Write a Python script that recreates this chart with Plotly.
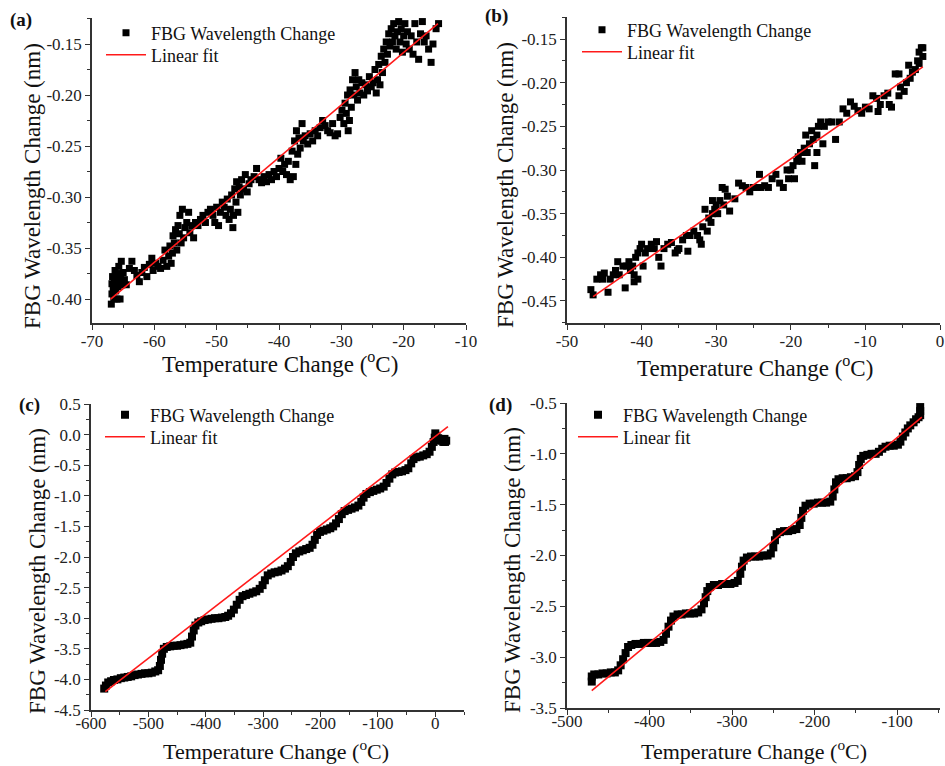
import plotly.graph_objects as go

# ---------------- data ----------------
a_points = [(-66.9,-0.405),(-66.8,-0.395),(-66.8,-0.385),(-66.7,-0.378),(-66.6,-0.390),(-66.5,-0.400),(-66.4,-0.383),
(-66.3,-0.372),(-66.2,-0.392),(-66.1,-0.380),(-66.0,-0.400),(-65.9,-0.375),(-65.8,-0.388),(-65.7,-0.368),(-65.6,-0.382),
(-65.5,-0.400),(-65.4,-0.376),(-65.3,-0.363),(-65.2,-0.386),(-65.0,-0.374),(-64.8,-0.381),(-64.5,-0.386),
(-64.0,-0.370),(-63.6,-0.363),(-63.2,-0.372),(-62.8,-0.377),(-62.4,-0.383),(-62.0,-0.374),(-61.6,-0.369),(-61.2,-0.378),
(-60.8,-0.366),(-60.4,-0.360),(-60.2,-0.372),(-59.8,-0.365),(-59.4,-0.368),(-59.0,-0.370),(-58.6,-0.362),(-58.3,-0.352),
(-58.0,-0.368),(-57.7,-0.358),(-57.5,-0.348),(-57.3,-0.365),(-57.1,-0.355),(-57.0,-0.338),(-56.8,-0.345),(-56.6,-0.332),
(-56.4,-0.352),(-56.2,-0.328),(-56.0,-0.336),(-55.9,-0.318),(-55.7,-0.345),(-55.5,-0.312),(-55.3,-0.340),(-55.1,-0.330),
(-54.8,-0.325),(-54.5,-0.315),(-54.3,-0.335),(-54.0,-0.328),(-53.7,-0.340),(-53.4,-0.325),(-53.0,-0.328),(-52.6,-0.322),
(-52.2,-0.318),(-51.8,-0.325),(-51.4,-0.315),(-51.0,-0.312),(-50.6,-0.318),(-50.3,-0.325),(-50.0,-0.310),(-49.7,-0.328),
(-49.4,-0.315),(-49.1,-0.305),(-48.8,-0.310),(-48.5,-0.318),(-48.3,-0.302),(-48.0,-0.322),(-47.8,-0.312),(-47.6,-0.298),
(-47.4,-0.330),(-47.3,-0.318),(-47.1,-0.292),(-46.9,-0.305),(-46.8,-0.285),(-46.6,-0.315),(-46.4,-0.290),(-46.2,-0.298),
(-46.0,-0.283),(-45.7,-0.292),(-45.4,-0.278),(-45.1,-0.295),(-44.8,-0.287),(-44.5,-0.283),(-44.0,-0.280),(-43.6,-0.272),
(-43.2,-0.283),(-42.8,-0.286),(-42.4,-0.280),(-42.0,-0.285),(-41.6,-0.278),(-41.2,-0.283),(-40.8,-0.275),(-40.4,-0.280),
(-40.0,-0.272),(-39.7,-0.262),(-39.4,-0.275),(-39.1,-0.268),(-38.8,-0.278),(-38.5,-0.265),(-38.2,-0.283),(-37.9,-0.255),
(-37.7,-0.280),(-37.5,-0.245),(-37.3,-0.268),(-37.2,-0.235),(-37.0,-0.258),(-36.8,-0.242),(-36.6,-0.252),(-36.3,-0.228),
(-36.1,-0.245),(-35.8,-0.240),(-35.4,-0.248),(-35.0,-0.238),(-34.6,-0.245),(-34.2,-0.235),(-33.8,-0.240),(-33.4,-0.232),
(-33.0,-0.225),(-32.6,-0.230),(-32.2,-0.235),(-31.8,-0.237),(-31.4,-0.228),(-31.0,-0.240),(-30.6,-0.238),(-30.2,-0.222),
(-29.9,-0.215),(-29.6,-0.228),(-29.4,-0.208),(-29.2,-0.218),(-29.0,-0.200),(-28.9,-0.235),(-28.7,-0.225),(-28.6,-0.195),
(-28.4,-0.212),(-28.2,-0.185),(-28.0,-0.200),(-27.8,-0.178),(-27.6,-0.192),(-27.4,-0.205),(-27.2,-0.185),(-27.0,-0.198),
(-26.7,-0.188),(-26.4,-0.200),(-26.1,-0.190),(-25.8,-0.196),(-25.5,-0.182),(-25.2,-0.192),(-24.9,-0.188),(-24.6,-0.175),
(-24.4,-0.198),(-24.2,-0.185),(-24.0,-0.170),(-23.8,-0.190),(-23.6,-0.162),(-23.4,-0.178),(-23.2,-0.155),(-23.0,-0.168),
(-22.8,-0.148),(-22.6,-0.160),(-22.4,-0.140),(-22.2,-0.152),(-22.0,-0.135),(-21.8,-0.148),(-21.6,-0.130),(-21.4,-0.142),
(-21.2,-0.155),(-21.0,-0.138),(-20.8,-0.128),(-20.6,-0.148),(-20.4,-0.135),(-20.2,-0.158),(-20.0,-0.142),(-19.8,-0.130),
(-19.6,-0.150),(-19.4,-0.138),(-19.1,-0.155),(-18.8,-0.142),(-18.5,-0.160),(-18.2,-0.130),(-17.9,-0.148),(-17.6,-0.165),
(-17.3,-0.140),(-17.0,-0.128),(-16.7,-0.148),(-16.4,-0.142),(-16.0,-0.155),(-15.6,-0.168),(-15.3,-0.150),(-14.8,-0.135),
(-14.4,-0.130)]
a_fit_x = [-67.0, -14.5]
a_fit_y = [-0.400, -0.130]

b_points = [(-46.8,-0.437),(-46.5,-0.443),(-46.0,-0.425),(-45.5,-0.420),(-45.2,-0.425),(-45.0,-0.418),
(-44.5,-0.440),(-44.2,-0.425),(-43.8,-0.420),(-43.5,-0.415),(-43.2,-0.405),(-43.0,-0.420),(-42.5,-0.410),(-42.2,-0.435),
(-42.0,-0.410),(-41.7,-0.405),(-41.5,-0.415),(-41.2,-0.410),(-41.0,-0.420),(-40.8,-0.400),(-40.5,-0.395),(-40.2,-0.390),
(-40.0,-0.385),(-39.8,-0.410),(-39.5,-0.395),(-39.2,-0.390),(-41.0,-0.428),(-40.5,-0.425),
(-38.7,-0.385),(-38.3,-0.390),(-38.0,-0.382),(-37.7,-0.400),(-37.4,-0.410),(-37.0,-0.390),(-36.5,-0.385),(-36.0,-0.383),
(-35.5,-0.395),(-35.2,-0.392),(-35.0,-0.390),(-34.5,-0.380),(-34.0,-0.375),(-33.8,-0.393),(-33.5,-0.375),(-33.0,-0.370),
(-32.5,-0.375),(-32.2,-0.380),(-32.0,-0.385),(-31.8,-0.365),(-31.5,-0.345),(-31.2,-0.370),(-31.0,-0.355),
(-30.7,-0.360),(-30.5,-0.350),(-30.2,-0.345),(-30.0,-0.340),(-29.8,-0.350),(-29.5,-0.335),(-29.2,-0.320),(-29.0,-0.340),
(-28.8,-0.322),(-28.5,-0.330),(-28.2,-0.347),(-30.5,-0.335),
(-27.5,-0.333),(-27.0,-0.315),(-26.5,-0.318),(-26.0,-0.320),(-25.5,-0.325),(-25.0,-0.320),(-24.5,-0.320),(-24.2,-0.305),
(-24.0,-0.320),(-23.5,-0.318),(-23.0,-0.320),(-22.5,-0.310),(-22.0,-0.305),(-21.5,-0.315),(-21.0,-0.320),(-20.5,-0.300),
(-20.3,-0.310),(-20.0,-0.300),(-19.7,-0.295),(-19.5,-0.310),(-19.2,-0.290),(-19.0,-0.285),(-18.7,-0.280),(-18.5,-0.290),
(-18.2,-0.275),(-18.0,-0.260),(-17.8,-0.280),(-17.5,-0.270),(-17.2,-0.255),(-17.0,-0.265),(-16.8,-0.295),(-16.5,-0.260),
(-16.3,-0.250),(-16.5,-0.280),(-16.0,-0.245),(-15.7,-0.270),(-15.5,-0.250),(-15.0,-0.245),(-14.5,-0.245),(-14.0,-0.265),
(-13.5,-0.245),(-13.0,-0.230),(-12.5,-0.235),(-12.0,-0.222),(-11.5,-0.227),(-11.0,-0.232),(-10.5,-0.235),(-10.0,-0.228),
(-9.5,-0.230),(-9.0,-0.215),(-8.5,-0.218),(-8.3,-0.233),(-8.0,-0.225),(-7.5,-0.215),(-7.0,-0.212),(-6.8,-0.225),
(-6.5,-0.228),(-6.0,-0.190),(-5.5,-0.215),(-5.3,-0.205),(-5.5,-0.190),(-4.8,-0.210),(-4.5,-0.200),(-4.2,-0.180),
(-4.0,-0.195),(-3.7,-0.188),(-3.3,-0.185),(-3.0,-0.175),(-2.8,-0.165),(-2.5,-0.160),(-2.3,-0.170),(-2.8,-0.178),
(-2.3,-0.160)]
b_fit_x = [-46.5, -2.3]
b_fit_y = [-0.445, -0.182]

c_points = [(-577,-4.15),(-574,-4.10),(-570,-4.05),(-565,-4.03),(-560,-4.01),(-554,-4.00),(-548,-3.98),(-542,-3.97),
(-536,-3.96),(-530,-3.95),(-524,-3.93),(-518,-3.92),(-512,-3.91),(-506,-3.90),(-500,-3.90),(-494,-3.89),(-488,-3.87),
(-483,-3.85),(-480,-3.78),(-478,-3.68),(-476,-3.58),(-473,-3.50),(-468,-3.47),(-462,-3.46),(-456,-3.45),(-450,-3.45),
(-444,-3.44),(-438,-3.43),(-432,-3.42),(-427,-3.40),(-424,-3.30),(-421,-3.20),(-418,-3.12),(-413,-3.07),(-408,-3.05),
(-402,-3.03),(-396,-3.02),(-390,-3.01),(-384,-3.00),(-378,-3.00),(-372,-2.99),(-366,-2.98),(-361,-2.96),(-356,-2.92),
(-351,-2.86),(-346,-2.78),(-341,-2.70),(-336,-2.64),(-330,-2.62),(-324,-2.60),(-318,-2.58),(-312,-2.56),(-306,-2.52),
(-301,-2.46),(-297,-2.38),(-292,-2.30),(-286,-2.27),(-280,-2.25),(-274,-2.24),(-268,-2.22),(-262,-2.19),(-257,-2.15),
(-252,-2.08),(-248,-2.00),(-243,-1.94),(-237,-1.91),(-231,-1.89),(-225,-1.87),(-219,-1.85),(-214,-1.80),(-210,-1.72),
(-206,-1.64),(-201,-1.59),(-195,-1.57),(-189,-1.55),(-183,-1.53),(-178,-1.50),(-173,-1.45),(-168,-1.38),(-163,-1.30),
(-158,-1.25),(-152,-1.23),(-146,-1.21),(-140,-1.19),(-134,-1.16),(-129,-1.10),(-125,-1.03),(-120,-0.97),(-114,-0.94),
(-108,-0.92),(-102,-0.90),(-96,-0.88),(-90,-0.85),(-85,-0.79),(-80,-0.72),(-75,-0.65),(-70,-0.62),(-64,-0.61),
(-58,-0.60),(-52,-0.58),(-47,-0.55),(-42,-0.47),(-38,-0.40),(-33,-0.37),(-27,-0.36),(-21,-0.34),(-15,-0.32),
(-10,-0.28),(-6,-0.20),(-3,-0.12),(-1,-0.05),(0,0.02),(2,-0.02),(5,-0.06),(8,-0.09),(11,-0.10),(14,-0.12),
(17,-0.12),(19,-0.10),(16,-0.07)]
c_fit_x = [-575, 22]
c_fit_y = [-4.20, 0.13]

d_points = [(-470,-3.24),(-470,-3.19),(-467,-3.17),(-462,-3.17),(-457,-3.16),(-452,-3.16),(-447,-3.15),(-442,-3.15),
(-438,-3.13),(-435,-3.08),(-432,-3.02),(-429,-2.96),(-426,-2.90),(-422,-2.88),(-417,-2.87),(-412,-2.87),(-407,-2.86),
(-402,-2.86),(-397,-2.86),(-392,-2.86),(-387,-2.85),(-383,-2.83),(-380,-2.77),(-377,-2.70),(-374,-2.64),(-371,-2.60),
(-366,-2.58),(-361,-2.58),(-356,-2.57),(-351,-2.57),(-346,-2.57),(-341,-2.56),(-337,-2.53),(-334,-2.47),(-332,-2.41),
(-330,-2.35),(-327,-2.31),(-322,-2.29),(-317,-2.29),(-312,-2.28),(-307,-2.28),(-302,-2.28),(-297,-2.27),(-293,-2.25),
(-290,-2.18),(-288,-2.11),(-286,-2.05),(-282,-2.02),(-277,-2.01),(-272,-2.01),(-267,-2.01),(-262,-2.00),(-257,-2.00),
(-253,-1.98),(-250,-1.92),(-248,-1.85),(-246,-1.79),(-242,-1.77),(-237,-1.76),(-232,-1.76),(-227,-1.75),(-222,-1.74),
(-218,-1.70),(-216,-1.63),(-214,-1.56),(-211,-1.51),(-206,-1.49),(-201,-1.49),(-196,-1.48),(-191,-1.48),(-186,-1.48),
(-181,-1.47),(-178,-1.42),(-176,-1.35),(-174,-1.28),(-171,-1.25),(-166,-1.24),(-161,-1.24),(-156,-1.23),(-151,-1.22),
(-148,-1.18),(-146,-1.11),(-144,-1.05),(-141,-1.02),(-136,-1.01),(-131,-1.00),(-126,-1.00),(-122,-0.98),(-118,-0.95),
(-114,-0.93),(-109,-0.92),(-104,-0.92),(-99,-0.91),(-96,-0.88),(-93,-0.83),(-90,-0.79),(-87,-0.75),(-84,-0.72),
(-80,-0.69),(-77,-0.66),(-74,-0.64),(-72,-0.62),(-72,-0.58),(-72,-0.54)]
d_fit_x = [-470, -70]
d_fit_y = [-3.33, -0.64]

a_xticks = [-70, -60, -50, -40, -30, -20, -10]
a_yticks = [-0.40, -0.35, -0.30, -0.25, -0.20, -0.15]
b_xticks = [-50, -40, -30, -20, -10, 0]
b_yticks = [-0.45, -0.40, -0.35, -0.30, -0.25, -0.20, -0.15]
c_xticks = [-600, -500, -400, -300, -200, -100, 0]
c_yticks = [-4.5, -4.0, -3.5, -3.0, -2.5, -2.0, -1.5, -1.0, -0.5, 0.0, 0.5]
d_xticks = [-500, -400, -300, -200, -100]
d_yticks = [-3.5, -3.0, -2.5, -2.0, -1.5, -1.0, -0.5]

panel_labels = ["(a)", "(b)", "(c)", "(d)"]
series_name = "FBG Wavelength Change"
fit_name = "Linear fit"
x_title = "Temperature Change (<sup>o</sup>C)"
y_title = "FBG Wavelength Change (nm)"

# ---------------- figure ----------------
W, H = 945, 766
FONT = "Liberation Serif"

def px_x(p):
    return p / W

def px_y(p):
    return 1 - p / H

# xtit: (center x px, y px, anchor, font size)
panels = [
    dict(pts=a_points, fx=a_fit_x, fy=a_fit_y, xt=a_xticks, yt=a_yticks, yfmt="{:.2f}", xfmt="{:d}",
         xr=[-70, -10], yr=[-0.4235, -0.1245], xdom=[92, 466], ydom=[18, 323], xminor=5, yminor=0.025,
         leg=(101, 33, 55), lab=(8, 20), msize=7, xtit=(280, 362, "middle", 23), ytit=(32, 186), xstand=-3),
    dict(pts=b_points, fx=b_fit_x, fy=b_fit_y, xt=b_xticks, yt=b_yticks, yfmt="{:.2f}", xfmt="{:d}",
         xr=[-50, 0], yr=[-0.4752, -0.1248], xdom=[567, 940], ydom=[17, 323], xminor=5, yminor=0.025,
         leg=(577, 30, 52), lab=(483, 16), msize=7, xtit=(755, 366, "middle", 23), ytit=(505, 185), xstand=-3),
    dict(pts=c_points, fx=c_fit_x, fy=c_fit_y, xt=c_xticks, yt=c_yticks, yfmt="{:.1f}", xfmt="{:d}",
         xr=[-600, 50], yr=[-4.5, 0.5], xdom=[91, 464], ydom=[404, 710], xminor=50, yminor=0.25,
         leg=(100, 415, 437), lab=(17, 405), msize=8, xtit=(276, 766, "bottom", 22), ytit=(37, 571), xstand=-8),
    dict(pts=d_points, fx=d_fit_x, fy=d_fit_y, xt=d_xticks, yt=d_yticks, yfmt="{:.1f}", xfmt="{:d}",
         xr=[-500, -48], yr=[-3.5, -0.5], xdom=[567, 940], ydom=[403, 708], xminor=50, yminor=0.25,
         leg=(573, 415, 437), lab=(487, 405), msize=8, xtit=(754, 766, "bottom", 22), ytit=(512, 570), xstand=-8),
]

fig = go.Figure()
layout = dict(
    width=W, height=H, margin=dict(l=0, r=0, t=0, b=0, autoexpand=False),
    paper_bgcolor="white", plot_bgcolor="white", showlegend=True,
    font=dict(family=FONT, color="#111"),
    annotations=[],
    legend=dict(visible=False),
)

axis_line = "#333333"
leg_index = 1

def legend_key(k):
    return f"legend{k}"

for i, p in enumerate(panels):
    n = i + 1
    sfx = "" if n == 1 else str(n)
    leg_index += 1
    leg_s = legend_key(leg_index)
    leg_index += 1
    leg_f = legend_key(leg_index)
    xs = [q[0] for q in p["pts"]]
    ys = [q[1] for q in p["pts"]]
    fig.add_trace(go.Scatter(
        x=xs, y=ys, mode="markers", name=series_name, showlegend=True,
        marker=dict(symbol="square", size=p["msize"], color="black", line=dict(width=0)),
        xaxis=f"x{sfx}", yaxis=f"y{sfx}", legend=leg_s,
    ))
    fig.add_trace(go.Scatter(
        x=p["fx"], y=p["fy"], mode="lines", name=fit_name, showlegend=True,
        line=dict(color="#ff1a1a", width=1.6),
        xaxis=f"x{sfx}", yaxis=f"y{sfx}", legend=leg_f,
    ))
    common = dict(showline=True, linecolor=axis_line, linewidth=1.5, ticks="outside", ticklen=5,
                  tickwidth=1.2, tickcolor=axis_line, showgrid=False, zeroline=False, automargin=False,
                  tickfont=dict(family=FONT, size=17, color="#222"))
    layout[f"xaxis{sfx}"] = dict(
        common, domain=[px_x(p["xdom"][0]), px_x(p["xdom"][1])], anchor=f"y{sfx}", range=p["xr"],
        tickmode="array", tickvals=p["xt"], ticktext=[p["xfmt"].format(v) for v in p["xt"]],
        ticklabelstandoff=p["xstand"],
        minor=dict(tickmode="linear", tick0=p["xt"][0], dtick=p["xminor"], ticks="outside", ticklen=3,
                   tickwidth=1.2, tickcolor=axis_line, showgrid=False),
    )
    layout[f"yaxis{sfx}"] = dict(
        common, domain=[px_y(p["ydom"][1]), px_y(p["ydom"][0])], anchor=f"x{sfx}", range=p["yr"],
        tickmode="array", tickvals=p["yt"], ticktext=[p["yfmt"].format(v) for v in p["yt"]],
        minor=dict(tickmode="linear", tick0=p["yt"][0], dtick=p["yminor"], ticks="outside", ticklen=3,
                   tickwidth=1.2, tickcolor=axis_line, showgrid=False),
    )
    for key, yrow in ((leg_s, p["leg"][1]), (leg_f, p["leg"][2])):
        layout[key] = dict(
            x=px_x(p["leg"][0]), y=px_y(yrow), xanchor="left", yanchor="middle", visible=True,
            bgcolor="rgba(0,0,0,0)", borderwidth=0, font=dict(family=FONT, size=18, color="#111"),
            itemwidth=40, tracegroupgap=0,
        )
    layout["annotations"].append(dict(
        text=f"<b>{panel_labels[i]}</b>", x=px_x(p["lab"][0]), y=px_y(p["lab"][1]),
        xref="paper", yref="paper", xanchor="left", yanchor="middle", showarrow=False,
        font=dict(family=FONT, size=19, color="#111"),
    ))
    layout["annotations"].append(dict(
        text=x_title, x=px_x(p["xtit"][0]), y=px_y(p["xtit"][1]),
        xref="paper", yref="paper", xanchor="center", yanchor=p["xtit"][2], showarrow=False,
        font=dict(family=FONT, size=p["xtit"][3], color="#111"),
    ))
    layout["annotations"].append(dict(
        text=y_title, x=px_x(p["ytit"][0]), y=px_y(p["ytit"][1]), textangle=-90,
        xref="paper", yref="paper", xanchor="center", yanchor="middle", showarrow=False,
        font=dict(family=FONT, size=23, color="#111"),
    ))

fig.update_layout(**layout)
fig.write_html("out.html")
